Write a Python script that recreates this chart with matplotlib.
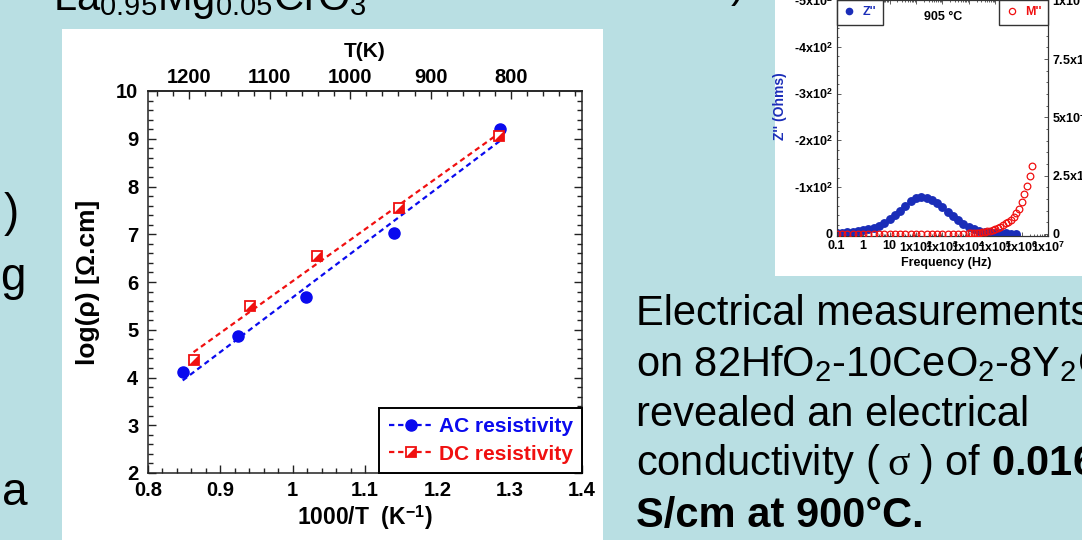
"""Slide crop: Arrhenius plot of La0.95Mg0.05CrO3 plus an impedance inset."""

import matplotlib

matplotlib.use("Agg")
import matplotlib.pyplot as plt
import numpy as np
from matplotlib.lines import Line2D
from matplotlib.patches import Rectangle
from matplotlib.ticker import FuncFormatter, LogLocator, MultipleLocator, NullFormatter

plt.rcParams["font.family"] = ["Liberation Sans", "DejaVu Sans"]
plt.rcParams["font.weight"] = "bold"
plt.rcParams["axes.labelweight"] = "bold"
plt.rcParams["mathtext.fontset"] = "custom"
plt.rcParams["mathtext.rm"] = "Liberation Sans:weight=normal"
plt.rcParams["mathtext.it"] = "Liberation Serif:weight=normal"
plt.rcParams["mathtext.bf"] = "Liberation Sans:weight=bold"

W, H = 1082, 540
SLIDE_BG = "#b9dfe3"
BLUE = "#0a0aee"
RED = "#f01010"
NAVY = "#1a2db8"
SPINE = "#222222"

# main panel: AC / DC resistivity vs 1000/T
inv_t_ac = [0.848, 0.924, 1.019, 1.140, 1.287]
log_rho_ac = [4.11, 4.86, 5.68, 7.03, 9.20]
inv_t_dc = [0.863, 0.941, 1.034, 1.147, 1.285]
log_rho_dc = [4.36, 5.49, 6.55, 7.56, 9.06]

top_tick_temps = [1200, 1100, 1000, 900, 800]
# the T(K) axis of the original is linear in T: 1200 K sits at 0.857, 800 K at 1.302
top_anchor_x = (0.857, 1.302)
top_anchor_t = (1200.0, 800.0)

# inset: Z'' and M'' spectra at 905 C (frequencies as log10 Hz)
z_log_freq = [-1.0, -0.8, -0.6, -0.4, -0.2, 0.0, 0.2, 0.4, 0.6, 0.8, 1.0, 1.2,
              1.4, 1.6, 1.8, 2.0, 2.2, 2.4, 2.6, 2.8, 3.0, 3.2, 3.4, 3.6,
              3.8, 4.0, 4.2, 4.4, 4.6, 4.8, 5.0, 5.2, 5.4, 5.6, 5.8]
z_imag = [-2.0, -2.6, -3.4, -4.4, -5.8, -7.5, -10.0, -13.5, -18.0, -24.0, -31.0, -40.0,
          -50.0, -60.0, -70.0, -76.5, -79.0, -77.5, -73.0, -66.0, -57.0, -47.0, -38.0, -29.0,
          -21.0, -15.0, -10.0, -7.0, -5.0, -3.5, -2.5, -1.8, -1.3, -1.0, -0.8]
m_log_freq = [-1.0, -0.8, -0.6, -0.4, -0.2, 0.0, 0.2, 0.4, 0.6, 0.8, 1.0, 1.2, 1.4,
              1.6, 1.8, 2.0, 2.2, 2.4, 2.6, 2.8, 3.0, 3.2, 3.4, 3.6, 3.8, 4.0,
              4.1, 4.2, 4.3, 4.4, 4.5, 4.6, 4.7, 4.8, 4.9, 5.0, 5.1, 5.2,
              5.3, 5.4, 5.5, 5.6, 5.7, 5.8, 5.9, 6.0, 6.1, 6.2, 6.3, 6.4]
m_imag = [0.0, 0.0, 0.0, 0.0, 0.0, 0.0, 0.0, 0.0, 0.0, 0.0, 0.0, 0.0, 0.0,
          0.0, 0.0, 0.0, 0.0, 0.0, 0.0, 0.0, 0.0, 0.0, 0.0, 0.01, 0.02, 0.03,
          0.035, 0.04, 0.05, 0.06, 0.07, 0.09, 0.11, 0.14, 0.17, 0.21, 0.26, 0.32,
          0.39, 0.46, 0.53, 0.61, 0.73, 0.88, 1.08, 1.38, 1.72, 2.05, 2.48, 2.9]

freq_ticks = [0.1, 1, 10, 1e2, 1e3, 1e4, 1e5, 1e6, 1e7]
freq_labels = ["0.1", "1", "10"] + [r"1x10$^{\mathbf{%d}}$" % k for k in range(2, 8)]
z_ticks = [0, -100, -200, -300, -400, -500]
z_labels = ["0"] + [r"-%dx10$^{\mathbf{2}}$" % k for k in range(1, 6)]
m_ticks = [0, 2.5, 5, 7.5, 10]
m_labels = ["0", r"2.5x10$^{\mathbf{-3}}$", r"5x10$^{\mathbf{-3}}$",
            r"7.5x10$^{\mathbf{-3}}$", r"1x10$^{\mathbf{-2}}$"]


def px_box(x0, y0, x1, y1):
    return [x0 / W, 1 - y1 / H, (x1 - x0) / W, (y1 - y0) / H]


def fx(px):
    return px / W


def fy(py):
    return 1 - py / H


fig = plt.figure(figsize=(W / 100, H / 100), dpi=100)
fig.patch.set_facecolor(SLIDE_BG)

# white picture panels pasted on the slide
for box in (px_box(62, 29, 603, 540), px_box(775, 0, 1082, 275.5)):
    fig.add_artist(Rectangle((box[0], box[1]), box[2], box[3], transform=fig.transFigure,
                             facecolor="white", edgecolor="none", zorder=-5))

# ---- main Arrhenius panel
ax = fig.add_axes(px_box(148, 91, 582, 473))
dash = (2.4, 1.7)
for xs, ys, color in ((inv_t_dc, log_rho_dc, RED), (inv_t_ac, log_rho_ac, BLUE)):
    coef = np.polyfit(xs, ys, 1)
    span = np.array([min(xs), max(xs)])
    ax.plot(span, np.polyval(coef, span), color=color, lw=1.6, dashes=dash, zorder=2)

half = [(-1, -1), (1, -1), (1, 1)]
ax.plot(inv_t_ac, log_rho_ac, "o", ms=8, color=BLUE, zorder=4)
ax.plot(inv_t_dc, log_rho_dc, "s", ms=7, mfc="white", mec=RED, mew=1.3, zorder=4)
ax.plot(inv_t_dc, log_rho_dc, ls="none", marker=half, ms=7, color=RED, mew=0, zorder=5)

ax.set_xlim(0.8, 1.4)
ax.set_ylim(2, 10)
ax.xaxis.set_major_locator(MultipleLocator(0.1))
ax.xaxis.set_minor_locator(MultipleLocator(0.02))
ax.yaxis.set_major_locator(MultipleLocator(1))
ax.yaxis.set_minor_locator(MultipleLocator(0.2))
ax.xaxis.set_major_formatter(FuncFormatter(lambda v, _: "%g" % round(v, 3)))
ax.tick_params(which="both", direction="in", top=False, right=True, color=SPINE, width=1.0,
               labelsize=14.5)
ax.tick_params(which="major", length=6)
ax.tick_params(which="minor", length=3.5)
ax.tick_params(axis="x", pad=5.5)
ax.tick_params(axis="y", pad=7)
for sp in ax.spines.values():
    sp.set_color(SPINE)
    sp.set_linewidth(1.1)

ax.set_xlabel(r"1000/T  (K$^{\mathbf{-1}}$)", fontsize=16.5)
ax.xaxis.set_label_coords(0.5, -0.08)
ax.set_ylabel("log(ρ) [Ω.cm]", fontsize=19)
ax.yaxis.set_label_coords(-0.11, 0.5)

slope = (top_anchor_t[1] - top_anchor_t[0]) / (top_anchor_x[1] - top_anchor_x[0])


def kelvin_from_inv(x):
    return top_anchor_t[0] + slope * (np.asarray(x) - top_anchor_x[0])


def inv_from_kelvin(t):
    return top_anchor_x[0] + (np.asarray(t) - top_anchor_t[0]) / slope


sec = ax.secondary_xaxis("top", functions=(kelvin_from_inv, inv_from_kelvin))
sec.set_xticks(top_tick_temps)
sec.xaxis.set_minor_locator(MultipleLocator(20))
sec.tick_params(which="both", direction="in", color=SPINE, width=1.0, labelsize=14.5, pad=3)
sec.tick_params(which="major", length=6)
sec.tick_params(which="minor", length=3.5)
sec.spines["top"].set_color(SPINE)
sec.spines["top"].set_linewidth(1.1)
sec.set_xlabel("T(K)", fontsize=15)
sec.xaxis.set_label_coords(0.5, 1.09, transform=ax.transAxes)

ac_handle = Line2D([], [], color=BLUE, lw=1.6, dashes=dash, marker="o", ms=8)
dc_line = Line2D([], [], color=RED, lw=1.6, dashes=dash, marker="s", ms=7,
                 mfc="white", mec=RED, mew=1.3)
dc_half = Line2D([], [], ls="none", marker=half, ms=7, color=RED, mew=0)
leg = ax.legend([ac_handle, (dc_line, dc_half)], ["AC resistivity", "DC resistivity"],
                loc="lower right", borderaxespad=0, fancybox=False, framealpha=1,
                edgecolor="black", prop={"weight": "bold", "size": 15},
                handlelength=2.1, handletextpad=0.3, borderpad=0.45, labelspacing=0.4)
leg.get_frame().set_linewidth(1.4)
for txt, color in zip(leg.get_texts(), (BLUE, RED)):
    txt.set_color(color)

# ---- impedance inset (top right, cropped by the slide edge)
iax = fig.add_axes(px_box(836.7, 0, 1048, 236))
iax.set_xscale("log")
iax.plot(10 ** np.array(z_log_freq), z_imag, "o", ms=6.4, color=NAVY, mew=0, zorder=3)
iax.set_xlim(0.1, 1e7)
iax.set_ylim(4.3, -500)
iax.set_xticks(freq_ticks)
iax.set_xticklabels(freq_labels)
iax.xaxis.set_minor_locator(LogLocator(base=10, subs=(2, 3, 4, 5, 6, 7, 8, 9), numticks=20))
iax.xaxis.set_minor_formatter(NullFormatter())
iax.set_yticks(z_ticks)
iax.set_yticklabels(z_labels)
iax.yaxis.set_minor_locator(MultipleLocator(20))
iax.tick_params(which="both", direction="in", top=True, right=False, color="#444444",
                width=0.6, labelsize=9, pad=3)
iax.tick_params(which="major", length=3)
iax.tick_params(which="minor", length=1.6)

iax2 = iax.twinx()
iax2.plot(10 ** np.array(m_log_freq), m_imag, "o", ms=4.8, mfc="none", mec=RED, mew=0.9,
          zorder=3)
iax2.set_ylim(-0.086, 10.03)
iax2.set_yticks(m_ticks)
iax2.set_yticklabels(m_labels)
iax2.yaxis.set_minor_locator(MultipleLocator(0.5))
iax2.tick_params(which="both", direction="in", color="#444444", width=0.6, labelsize=9, pad=3)
iax2.tick_params(which="major", length=3)
iax2.tick_params(which="minor", length=1.6)
for a in (iax, iax2):
    for sp in a.spines.values():
        sp.set_color("#333333")
        sp.set_linewidth(0.8)

iax.set_xlabel("Frequency (Hz)", fontsize=9)
iax.xaxis.set_label_coords(0.52, -0.088)
iax.set_ylabel("Z'' (Ohms)", fontsize=10, color=NAVY)
iax.yaxis.set_label_coords(-0.235, 0.55)

z_leg = iax.legend([Line2D([], [], ls="none", marker="o", ms=4.5, color=NAVY)], ["Z''"],
                   loc="upper left", borderaxespad=0, fancybox=False, framealpha=1,
                   edgecolor="#333333", prop={"weight": "bold", "size": 9},
                   handlelength=1.0, handletextpad=0.6, borderpad=0.5)
z_leg.get_texts()[0].set_color(NAVY)
m_leg = iax2.legend([Line2D([], [], ls="none", marker="o", ms=4.5, mfc="none", mec=RED, mew=0.9)],
                    ["M''"], loc="upper right", borderaxespad=0, fancybox=False, framealpha=1,
                    edgecolor="#333333", prop={"weight": "bold", "size": 9},
                    handlelength=1.0, handletextpad=0.6, borderpad=0.5)
m_leg.get_texts()[0].set_color(RED)
iax.text(0.504, 0.93, "905 °C", transform=iax.transAxes, ha="center", va="center", fontsize=9)

# ---- slide text around the pictures
slide = {"fontweight": "normal", "color": "black", "va": "baseline"}
fig.text(fx(53), fy(10), r"La$_{0.95}$Mg$_{0.05}$CrO$_3$", fontsize=30, **slide)
fig.text(fx(745), fy(-3), ")", fontsize=30, ha="right", **slide)
fig.text(fx(19), fy(226), ")", fontsize=33, ha="right", **slide)
fig.text(fx(26), fy(290), "g", fontsize=33, ha="right", **slide)
fig.text(fx(28), fy(505), "a", fontsize=33, ha="right", **slide)

body_x = fx(636)
fig.text(body_x, fy(325), "Electrical measurements", fontsize=30, **slide)
fig.text(body_x, fy(376), r"on 82HfO$_2$-10CeO$_2$-8Y$_2$O$_3$", fontsize=30, **slide)
fig.text(body_x, fy(426), "revealed an electrical", fontsize=30, **slide)
fig.text(body_x, fy(475), r"conductivity ($\;\sigma\;$) of $\mathbf{0.016}$", fontsize=30, **slide)
fig.text(body_x, fy(527), "S/cm at 900°C.", fontsize=30, fontweight="bold", color="black",
         va="baseline")

fig.savefig("out.png", dpi=100, facecolor=fig.get_facecolor())
